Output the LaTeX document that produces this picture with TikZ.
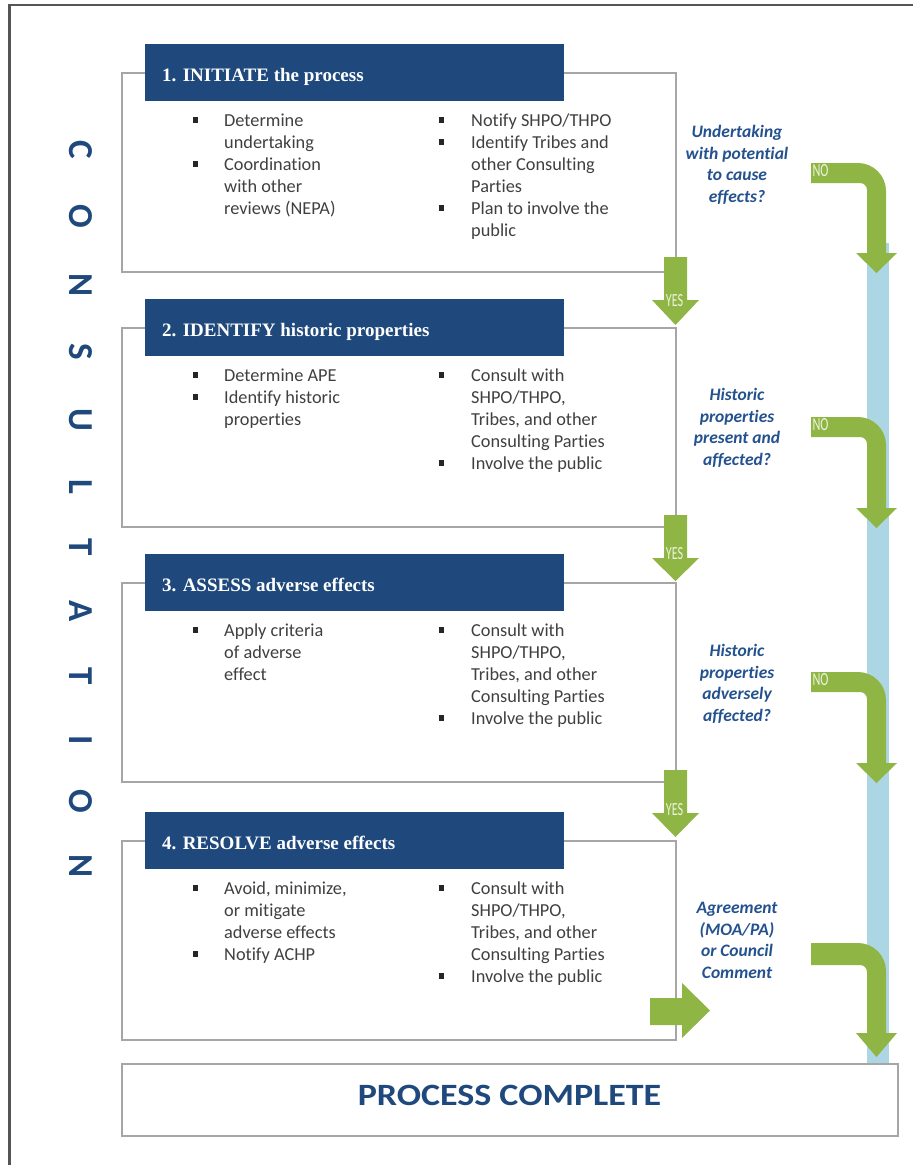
\documentclass[tikz,border=0pt]{standalone}
\usepackage{fontspec}
\usepackage{graphicx}
\setmainfont{Carlito}[Ligatures={NoCommon}, RawFeature={-liga}]
\newfontfamily\hdrfont{Liberation Serif}
\usetikzlibrary{calc}

\definecolor{hdrblue}{RGB}{31,73,125}
\definecolor{qblue}{RGB}{36,82,142}
\definecolor{bodygray}{RGB}{64,64,64}
\definecolor{boxgray}{RGB}{166,166,166}
\definecolor{framegray}{RGB}{85,85,85}
\definecolor{arrowgreen}{RGB}{143,182,68}
\definecolor{barblue}{RGB}{172,214,227}
\definecolor{tagtext}{RGB}{236,243,222}

% square bullet
\newcommand\sqbul{\textcolor{black!85}{\rule[3.4pt]{5.5pt}{5.5pt}}}
% bullet columns (left and right)
\newcommand\colleft[1]{\begin{tabular}[t]{@{}p{31.5pt}@{}l@{}}#1\end{tabular}}
\newcommand\colright[1]{\begin{tabular}[t]{@{}p{32.5pt}@{}l@{}}#1\end{tabular}}
% centred question text
\newcommand\qtext[1]{\begin{tabular}[t]{@{}c@{}}#1\end{tabular}}
% condensed arrow label
\newcommand\tagword[1]{\scalebox{0.66}[1]{#1}}

% bent "NO" arrow: band top, band bottom, head base, tip
\newcommand\noarrow[4]{%
  \fill[greenarrow] (811,#1) -- (858,#1)
    .. controls (873.4,#1) and (886,#1+12.6) .. (886,#1+28)
    -- (886,#3) -- (897,#3) -- (876.5,#4) -- (856,#3) -- (867,#3)
    -- (867,#2+7) .. controls (867,#2+3.1) and (863.9,#2) .. (860,#2)
    -- (811,#2) -- cycle;}
% straight "YES" arrow: shaft top, head base, tip
\newcommand\yesarrow[3]{%
  \fill[greenarrow] (664,#1) -- (687,#1) -- (687,#2) -- (699,#2)
    -- (675.5,#3) -- (652,#2) -- (664,#2) -- cycle;}

\begin{document}
\begin{tikzpicture}[x=1pt,y=-1pt,
  stepbox/.style={draw=boxgray, line width=1.8pt, minimum width=554pt,
    minimum height=199pt, anchor=north west, inner sep=0},
  headbar/.style={fill=hdrblue, minimum width=419pt, minimum height=57pt,
    anchor=north west, inner sep=0},
  headtext/.style={text=white, font=\hdrfont\bfseries\fontsize{19}{22}\selectfont,
    anchor=base west, inner sep=0},
  bodycol/.style={text=bodygray, font=\fontsize{18.3}{22}\selectfont,
    anchor=base west, inner sep=0},
  question/.style={text=qblue, font=\bfseries\itshape\fontsize{17.5}{21.7}\selectfont,
    anchor=base, inner sep=0},
  letter/.style={text=hdrblue, font=\bfseries\fontsize{35}{35}\selectfont,
    rotate=-90, inner sep=0},
  tag/.style={text=tagtext, font=\fontsize{18.5}{18.5}\selectfont, inner sep=0},
  greenarrow/.style={fill=arrowgreen},
]
\useasboundingbox (0,0) rectangle (913,1165);
\fill[white] (0,0) rectangle (913,1165);

% outer frame
\draw[framegray, line width=2.2pt] (9.5,1170) -- (9.5,5) -- (920,5);

% vertical CONSULTATION
\foreach \ch/\yy [count=\i] in {C/150,O/216,N/285,S/352,U/420,L/487,T/547,A/611,T/676,I/740,O/801,N/866}
  \node[letter] (cons\i) at (80.5,\yy) {\ch};

% step 1
\node[stepbox] (box1) at (121,72) {};
\node[headbar] (head1) at (145,44) {};
\node[headtext] (htext1) at (162,81) {1. INITIATE the process};
\node[bodycol] (left1) at (192.5,126) {\colleft{\sqbul & Determine\\ & undertaking\\ \sqbul & Coordination\\ & with other\\ & reviews (NEPA)}};
\node[bodycol] (right1) at (438.5,126) {\colright{\sqbul & Notify SHPO/THPO\\ \sqbul & Identify Tribes and\\ & other Consulting\\ & Parties\\ \sqbul & Plan to involve the\\ & public}};

% step 2
\node[stepbox] (box2) at (121,327) {};
\node[headbar] (head2) at (145,299) {};
\node[headtext] (htext2) at (162,336) {2. IDENTIFY historic properties};
\node[bodycol] (left2) at (192.5,381) {\colleft{\sqbul & Determine APE\\ \sqbul & Identify historic\\ & properties}};
\node[bodycol] (right2) at (438.5,381) {\colright{\sqbul & Consult with\\ & SHPO/THPO,\\ & Tribes, and other\\ & Consulting Parties\\ \sqbul & Involve the public}};

% step 3
\node[stepbox] (box3) at (121,582) {};
\node[headbar] (head3) at (145,554) {};
\node[headtext] (htext3) at (162,591) {3. ASSESS adverse effects};
\node[bodycol] (left3) at (192.5,636) {\colleft{\sqbul & Apply criteria\\ & of adverse\\ & effect}};
\node[bodycol] (right3) at (438.5,636) {\colright{\sqbul & Consult with\\ & SHPO/THPO,\\ & Tribes, and other\\ & Consulting Parties\\ \sqbul & Involve the public}};

% step 4
\node[stepbox] (box4) at (121,840) {};
\node[headbar] (head4) at (145,812) {};
\node[headtext] (htext4) at (162,849) {4. RESOLVE adverse effects};
\node[bodycol] (left4) at (192.5,894) {\colleft{\sqbul & Avoid, minimize,\\ & or mitigate\\ & adverse effects\\ \sqbul & Notify ACHP}};
\node[bodycol] (right4) at (438.5,894) {\colright{\sqbul & Consult with\\ & SHPO/THPO,\\ & Tribes, and other\\ & Consulting Parties\\ \sqbul & Involve the public}};

% decision questions
\node[question] (q1) at (737,137.5) {\qtext{Undertaking\\ with potential\\ to cause\\ effects?}};
\node[question] (q2) at (737,400.5) {\qtext{Historic\\ properties\\ present and\\ affected?}};
\node[question] (q3) at (737,656.5) {\qtext{Historic\\ properties\\ adversely\\ affected?}};
\node[question] (q4) at (737,913.5) {\qtext{Agreement\\ (MOA/PA)\\ or Council\\ Comment}};

% bypass bar on the right
\fill[barblue] (867,243) rectangle (889,1063);

% YES arrows between steps
\yesarrow{257}{300}{325}
\yesarrow{515}{558}{581}
\yesarrow{770}{813}{837}
\node[tag] (yes1) at (674.5,301) {\tagword{YES}};
\node[tag] (yes2) at (674.5,554) {\tagword{YES}};
\node[tag] (yes3) at (674.5,810) {\tagword{YES}};

% NO arrows into the bypass bar
\noarrow{163}{183}{253}{273}
\noarrow{417}{437}{508}{528}
\noarrow{672}{692}{763}{783}
\noarrow{943}{965}{1033}{1057}
\node[tag] (no1) at (820.5,171) {\tagword{NO}};
\node[tag] (no2) at (820.5,425) {\tagword{NO}};
\node[tag] (no3) at (820.5,680) {\tagword{NO}};

% step 4 to agreement
\fill[greenarrow] (650,998) -- (682,998) -- (682,983) -- (710,1010.5)
  -- (682,1038) -- (682,1025) -- (650,1025) -- cycle;

% final box
\node[draw=boxgray, line width=1.8pt, fill=white, minimum width=776pt,
  minimum height=72pt, anchor=north west, inner sep=0] (done) at (121,1063) {};
\node[text=hdrblue, font=\bfseries\fontsize{31}{31}\selectfont, anchor=base,
  inner sep=0] (donetext) at (509.5,1105) {\scalebox{1.16}[1]{PROCESS COMPLETE}};
\end{tikzpicture}
\end{document}
